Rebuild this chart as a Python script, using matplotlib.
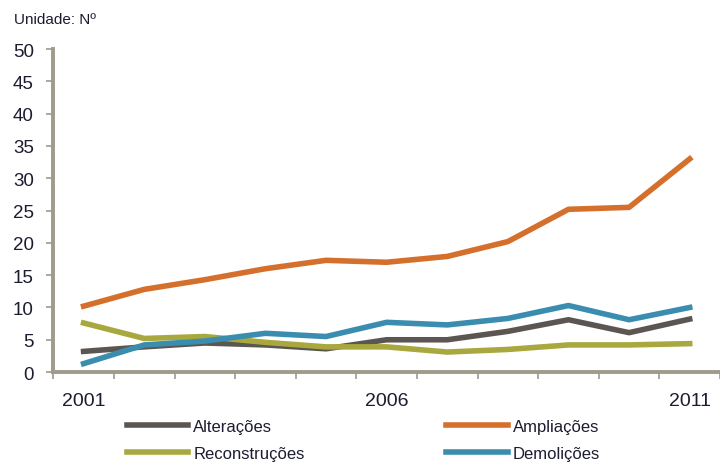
import matplotlib
matplotlib.use('Agg')
import matplotlib.pyplot as plt

plt.rcParams['font.family'] = ['Liberation Sans', 'DejaVu Sans']

# dados
anos = list(range(2001, 2012))
alteracoes = [3.2, 3.9, 4.5, 4.2, 3.6, 5.0, 5.0, 6.3, 8.1, 6.1, 8.2]
ampliacoes = [10.2, 12.8, 14.3, 16.0, 17.3, 17.0, 17.9, 20.2, 25.2, 25.5, 33.0]
reconstrucoes = [7.6, 5.2, 5.5, 4.6, 3.9, 3.9, 3.1, 3.5, 4.2, 4.2, 4.4]
demolicoes = [1.3, 4.2, 4.8, 6.0, 5.5, 7.7, 7.3, 8.3, 10.3, 8.1, 10.0]
rotulos_x = ['2001', '2006', '2011']

cor_texto = '#1c1c30'
cor_eixo = '#a09a8c'

fig = plt.figure(figsize=(7.2, 4.64), dpi=100)
ax = fig.add_axes([0.074, 0.196, 0.926, 0.696])

x = list(range(len(anos)))
lw = 4.0
l1, = ax.plot(x, alteracoes, color='#5b5651', linewidth=lw, label='Alterações')
l3, = ax.plot(x, reconstrucoes, color='#a8a83e', linewidth=lw, label='Reconstruções')
l2, = ax.plot(x, ampliacoes, color='#d46f2c', linewidth=lw, label='Ampliações')
l4, = ax.plot(x, demolicoes, color='#3b8db0', linewidth=lw, label='Demolições')

ax.set_xlim(-0.5, len(anos) - 0.5)
ax.set_ylim(0, 50)
ax.set_yticks(range(0, 51, 5))

# ticks nas fronteiras das categorias, rótulos só em alguns anos
ax.set_xticks([i - 0.5 for i in range(len(anos) + 1)])
ax.set_xticklabels([])
ax.set_xticks([anos.index(int(r)) for r in rotulos_x], minor=True)
ax.set_xticklabels(rotulos_x, minor=True)
ax.tick_params(axis='x', which='major', length=5, width=1.2, color=cor_eixo, direction='out')
ax.tick_params(axis='x', which='minor', length=0, pad=14, labelsize=14, labelcolor=cor_texto)
ax.tick_params(axis='y', length=5, width=1.2, color=cor_eixo, labelsize=13.5,
               labelcolor=cor_texto, pad=9)

for s in ['top', 'right']:
    ax.spines[s].set_visible(False)
for s in ['left', 'bottom']:
    ax.spines[s].set_color(cor_eixo)
    ax.spines[s].set_linewidth(2.8)

fig.text(0.019, 1 - 20 / 464, 'Unidade: Nº', fontsize=11, color=cor_texto, va='center')

fig.legend(handles=[l1, l3, l2, l4], ncol=2, loc='lower left',
           bbox_to_anchor=(0.155, -0.028), frameon=False, fontsize=12,
           handlelength=3.7, handletextpad=0.3, columnspacing=8.5,
           labelspacing=0.72, labelcolor=cor_texto)

fig.savefig('out.png', dpi=100)
